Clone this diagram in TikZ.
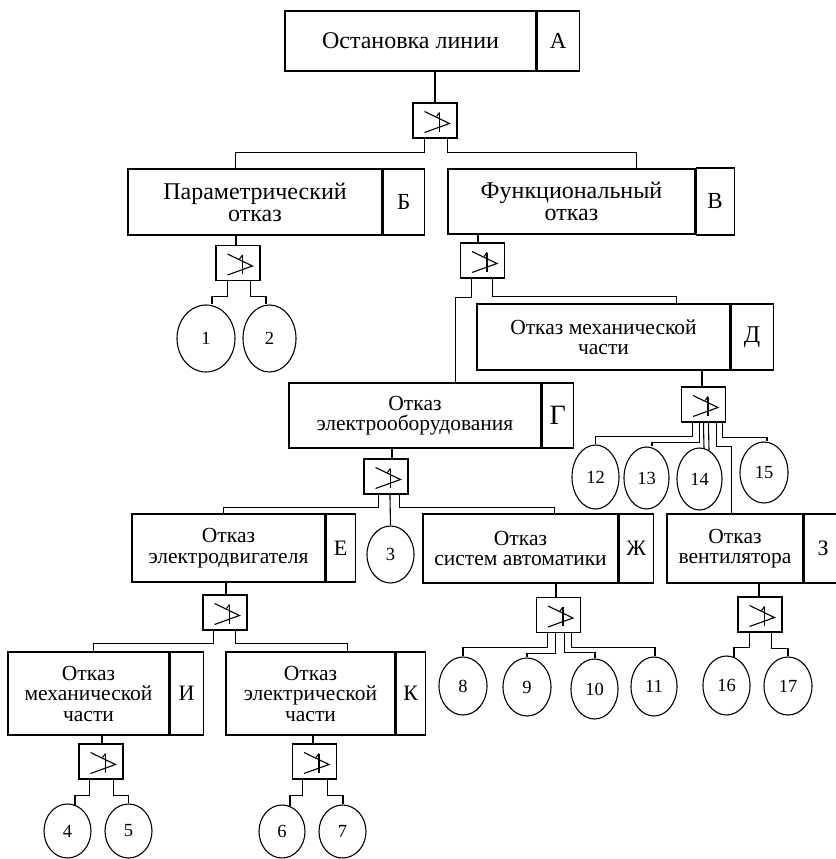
\documentclass[tikz,border=0pt]{standalone}
\usepackage{fontspec}
\setmainfont{Liberation Serif}
\usetikzlibrary{shapes.geometric}
\begin{document}
\begin{tikzpicture}[x=1pt,y=-1pt,line width=1.1pt,
  box/.style={draw, rectangle, inner sep=0pt, align=center, font=\fontsize{21.5}{20.5}\selectfont},
  bigbox/.style={box, font=\fontsize{24}{22}\selectfont},
  lbl/.style={draw, rectangle, inner sep=0pt, anchor=west, font=\fontsize{22}{22}\selectfont},
  ell/.style={draw, ellipse, inner sep=0pt, font=\fontsize{18.5}{18.5}\selectfont},
  gate/.style={draw, rectangle, inner sep=0pt, minimum width=44pt, minimum height=35pt,
    path picture={
      \draw ([shift={(-10.5,-9)}]path picture bounding box.center) -- ++(25,12) -- ++(-25,9);
      \draw ([shift={(4.5,-8)}]path picture bounding box.center) -- ++(0,19);
      \draw ([shift={(1.5,-4)}]path picture bounding box.center) -- ++(3,-4);
    }},
]
\useasboundingbox (0,0) rectangle (835,859);

% ---- boxes ----
\node[bigbox, minimum width=251pt, minimum height=60pt] (A) at (410.5,41) {Остановка линии};
\node[lbl, minimum width=42pt, minimum height=60pt, font=\fontsize{23}{23}\selectfont] (Al) at (A.east) {А};

\node[bigbox, minimum width=254pt, minimum height=66pt] (B) at (255,202) {Параметрический\\отказ};
\node[lbl, minimum width=41pt, minimum height=66pt, font=\fontsize{23}{23}\selectfont] (Bl) at (B.east) {Б};

\node[bigbox, minimum width=247pt, minimum height=65pt] (V) at (571.5,201.5) {Функциональный\\отказ};
\node[lbl, minimum width=38pt, minimum height=67pt, font=\fontsize{23}{23}\selectfont] (Vl) at (V.east) {В};

\node[box, minimum width=253pt, minimum height=66pt] (D) at (603.5,337) {Отказ механической\\части};
\node[lbl, minimum width=42pt, minimum height=66pt, font=\fontsize{24}{24}\selectfont] (Dl) at (D.east) {Д};

\node[box, minimum width=252pt, minimum height=65pt] (G) at (415,415.5) {Отказ\\электрооборудования};
\node[lbl, minimum width=31pt, minimum height=65pt, font=\fontsize{28}{28}\selectfont] (Gl) at (G.east) {Г};

\node[box, minimum width=193pt, minimum height=68pt] (E) at (228.5,548) {Отказ\\электродвигателя};
\node[lbl, minimum width=29pt, minimum height=68pt] (El) at (E.east) {Е};

\node[box, minimum width=195pt, minimum height=69pt] (Zh) at (520.5,548.5) {Отказ\\систем автоматики};
\node[lbl, minimum width=34pt, minimum height=69pt] (Zhl) at (Zh.east) {Ж};

\node[box, minimum width=136pt, minimum height=69pt] (Z) at (735,548.5) {Отказ\\вентилятора};
\node[lbl, minimum width=38pt, minimum height=69pt] (Zl) at (Z.east) {З};

\node[box, minimum width=161pt, minimum height=83pt] (I) at (88.5,693.5) {Отказ\\механической\\части};
\node[lbl, minimum width=33pt, minimum height=83pt] (Il) at (I.east) {И};

\node[box, minimum width=169pt, minimum height=83pt] (K) at (310.5,693.5) {Отказ\\электрической\\части};
\node[lbl, minimum width=29pt, minimum height=83pt] (Kl) at (K.east) {К};

% ---- gates ----
\node[gate] (g1) at (435,120.5) {};
\node[gate] (g2) at (238,263) {};
\node[gate] (g3) at (482.5,260.5) {};
\node[gate] (g4) at (703.5,404.5) {};
\node[gate] (g5) at (386,476.5) {};
\node[gate] (g6) at (558.5,615) {};
\node[gate] (g7) at (760,614.5) {};
\node[gate] (g8) at (225,612.5) {};
\node[gate] (g9) at (101,761.5) {};
\node[gate] (g10) at (314.5,761.5) {};

% ---- events ----
\node[ell, minimum width=58pt, minimum height=67pt] (e1) at (206,338.5) {1};
\node[ell, minimum width=53pt, minimum height=67pt] (e2) at (269.5,338.5) {2};
\node[ell, minimum width=47pt, minimum height=57pt] (e3) at (390.5,554.5) {3};
\node[ell, minimum width=47pt, minimum height=54pt] (e4) at (67.5,831) {4};
\node[ell, minimum width=47pt, minimum height=54pt] (e5) at (128.5,831) {5};
\node[ell, minimum width=46pt, minimum height=53pt] (e6) at (282,831.5) {6};
\node[ell, minimum width=47pt, minimum height=53pt] (e7) at (342.5,831.5) {7};
\node[ell, minimum width=48pt, minimum height=58pt] (e8) at (463,686) {8};
\node[ell, minimum width=48pt, minimum height=58pt] (e9) at (527,687) {9};
\node[ell, minimum width=47pt, minimum height=60pt] (e10) at (594.5,689) {10};
\node[ell, minimum width=46pt, minimum height=59pt] (e11) at (654,686.5) {11};
\node[ell, minimum width=47pt, minimum height=64pt] (e12) at (595.5,477) {12};
\node[ell, minimum width=45pt, minimum height=62pt] (e13) at (646.5,478) {13};
\node[ell, minimum width=45pt, minimum height=62pt] (e14) at (699.5,479) {14};
\node[ell, minimum width=48pt, minimum height=61pt] (e15) at (764,472.5) {15};
\node[ell, minimum width=47pt, minimum height=59pt] (e16) at (726.5,685.5) {16};
\node[ell, minimum width=48pt, minimum height=58pt] (e17) at (788,686) {17};

% ---- box to gate ----
\draw (g1.north |- A.south) -- (g1.north);
\draw ([xshift=-2pt]g2.north |- B.south) -- ([xshift=-2pt]g2.north);
\draw ([xshift=-4.5pt]g3.north |- V.south) -- ([xshift=-4.5pt]g3.north);
\draw ([xshift=-1.5pt]g4.north |- D.south) -- ([xshift=-1.5pt]g4.north);
\draw ([xshift=6pt]g5.north |- G.south) -- ([xshift=6pt]g5.north);
\draw ([xshift=1pt]g8.north |- E.south) -- ([xshift=1pt]g8.north);
\draw ([xshift=-2.5pt]g6.north |- Zh.south) -- ([xshift=-2.5pt]g6.north);
\draw ([xshift=-1pt]g7.north |- Z.south) -- ([xshift=-1pt]g7.north);
\draw ([xshift=1pt]g9.north |- I.south) -- ([xshift=1pt]g9.north);
\draw ([xshift=-1.5pt]g10.north |- K.south) -- ([xshift=-1.5pt]g10.north);

% ---- gate to children ----
\draw ([xshift=12pt]g1.south west) -- ++(0,14) -| ([xshift=108pt]B.north west);
\draw ([xshift=35pt]g1.south west) -- ++(0,14) -| ([xshift=189pt]V.north west);

\draw ([xshift=12pt]g2.south west) -- ++(0,15) -| ([xshift=6pt]e1.north);
\draw ([xshift=35pt]g2.south west) -- ++(0,15) -| ([xshift=-3.5pt]e2.north);

\draw ([xshift=11.5pt]g3.south west) -- ++(0,19) -| ([xshift=167pt]G.north west);
\draw ([xshift=32.5pt]g3.south west) -- ++(0,18) -| ([xshift=200pt]D.north west);

\draw ([xshift=11.5pt]g4.south west) -- ++(0,14) -| (e12.north);
\draw ([xshift=18.5pt]g4.south west) -- ++(0,20) -| ([xshift=5.5pt]e13.north);
\draw ([xshift=22.5pt]g4.south west) -- ([xshift=4.5pt,yshift=-1pt]e14.north);
\draw ([xshift=27.5pt]g4.south west) -- ([xshift=9.5pt,yshift=-3pt]e14.north);
\draw ([xshift=35.5pt]g4.south west) -- ++(0,24) -| ([xshift=65pt]Z.north west);
\draw ([xshift=41.5pt]g4.south west) -- ++(0,15) -| ([xshift=3pt]e15.north);

\draw ([xshift=15pt]g5.south west) -- ++(0,13) -| ([xshift=92pt]E.north west);
\draw ([xshift=26.5pt]g5.south west) -- (e3.north);
\draw ([xshift=36pt]g5.south west) -- ++(0,13) -| ([xshift=132pt]Zh.north west);

\draw ([xshift=11.5pt]g6.south west) -- ++(0,14) -| (e8.north);
\draw ([xshift=19.5pt]g6.south west) -- ++(0,20) -| (e9.north);
\draw ([xshift=28.5pt]g6.south west) -- ++(0,19) -| ([xshift=0.5pt]e10.north);
\draw ([xshift=35.5pt]g6.south west) -- ++(0,14) -| ([xshift=1pt]e11.north);

\draw ([xshift=12pt]g7.south west) -- ++(0,15) -| ([xshift=7.5pt,yshift=-1.5pt]e16.north);
\draw ([xshift=34pt]g7.south west) -- ++(0,16) -| (e17.north);

\draw ([xshift=11pt]g8.south west) -- ++(0,13) -| ([xshift=86pt]I.north west);
\draw ([xshift=33pt]g8.south west) -- ++(0,13) -| ([xshift=122pt]K.north west);

\draw ([xshift=11pt]g9.south west) -- ++(0,16) -| ([xshift=7.5pt,yshift=-1.5pt]e4.north);
\draw ([xshift=35pt]g9.south west) -- ++(0,16) -| (e5.north);

\draw ([xshift=10.5pt]g10.south west) -- ++(0,16) -| ([xshift=8pt,yshift=-1.5pt]e6.north);
\draw ([xshift=35.5pt]g10.south west) -- ++(0,16) -| ([xshift=0.5pt]e7.north);
\end{tikzpicture}
\end{document}
